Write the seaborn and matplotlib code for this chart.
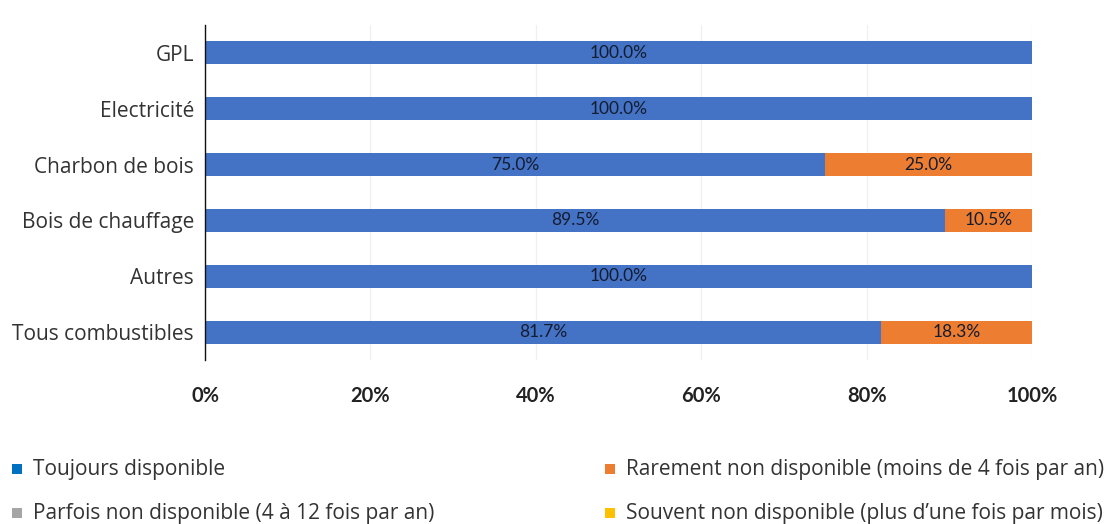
import matplotlib
matplotlib.use("Agg")
import matplotlib.pyplot as plt
import seaborn as sns
import pandas as pd
import numpy as np

categories = ["GPL", "Electricité", "Charbon de bois", "Bois de chauffage", "Autres", "Tous combustibles"]
toujours = [100.0, 100.0, 75.0, 89.5, 100.0, 81.7]
rarement = [0.0, 0.0, 25.0, 10.5, 0.0, 18.3]
parfois = [0.0, 0.0, 0.0, 0.0, 0.0, 0.0]
souvent = [0.0, 0.0, 0.0, 0.0, 0.0, 0.0]
series_names = ["Toujours disponible", "Rarement non disponible (moins de 4 fois par an)",
                "Parfois non disponible (4 à 12 fois par an)", "Souvent non disponible (plus d\u2019une fois par mois)"]
xticks = [0, 20, 40, 60, 80, 100]

bar_colors = ["#4472C4", "#ED7D31", "#A5A5A5", "#FFC000"]
legend_colors = ["#0070C0", "#ED7D31", "#A5A5A5", "#FFC000"]

sns.set_theme(style="white")
plt.rcParams['font.family'] = ['Open Sans', 'DejaVu Sans']

df = pd.DataFrame({"cat": categories, "t": toujours, "r": rarement, "p": parfois, "s": souvent})
cum1 = np.array(toujours)
cum2 = cum1 + np.array(rarement)
cum3 = cum2 + np.array(parfois)
cum4 = cum3 + np.array(souvent)
df["c1"], df["c2"], df["c3"], df["c4"] = cum1, cum2, cum3, cum4

fig = plt.figure(figsize=(11.07, 5.24), dpi=100)
ax = fig.add_axes([205/1107, 1 - 360/524, (1032-205)/1107, 335/524])

for col, color in zip(["c4", "c3", "c2", "c1"], bar_colors[::-1]):
    sns.barplot(data=df, x=col, y="cat", color=color, orient="h", width=0.41,
                ax=ax, saturation=1, linewidth=0)

ax.set_xlim(0, 100)
ax.set_ylim(5.5, -0.5)
ax.set_xticks(xticks)
ax.set_xticklabels([f"{v}%" for v in xticks], fontsize=14.5, fontweight="bold", color="#222222",
                   family=["Lato", "DejaVu Sans"])
ax.tick_params(axis="x", length=0, pad=19)
ax.tick_params(axis="y", length=0, pad=8)
ax.set_yticks(range(len(categories)))
ax.set_yticklabels(categories, fontsize=15, color="#333333")
ax.set_xlabel("")
ax.set_ylabel("")
ax.grid(axis="x", color="#F0F0F0", linewidth=1)
ax.set_axisbelow(True)
for s in ["top", "right", "bottom"]:
    ax.spines[s].set_visible(False)
ax.spines["left"].set_color("#111111")
ax.spines["left"].set_linewidth(1)

starts = [np.zeros(len(categories)), cum1, cum2, cum3]
for vals, st in zip([toujours, rarement, parfois, souvent], starts):
    for i, (v, s0) in enumerate(zip(vals, st)):
        if v > 0:
            ax.text(s0 + v / 2, i, f"{v:.1f}%", ha="center", va="center", fontsize=12.5,
                    color="#141C30", family=["Lato", "DejaVu Sans"])

pos = [(12, 469), (605, 469), (12, 513), (605, 513)]
for (x, y), name, c in zip(pos, series_names, legend_colors):
    fig.patches.append(plt.Rectangle((x/1107, 1 - (y+5)/524), 10/1107, 10/524,
                                     transform=fig.transFigure, facecolor=c, edgecolor="none"))
    fig.text((x+21)/1107, 1 - y/524, name, ha="left", va="center", fontsize=15, color="#333333")

fig.savefig("out.png", dpi=100)
